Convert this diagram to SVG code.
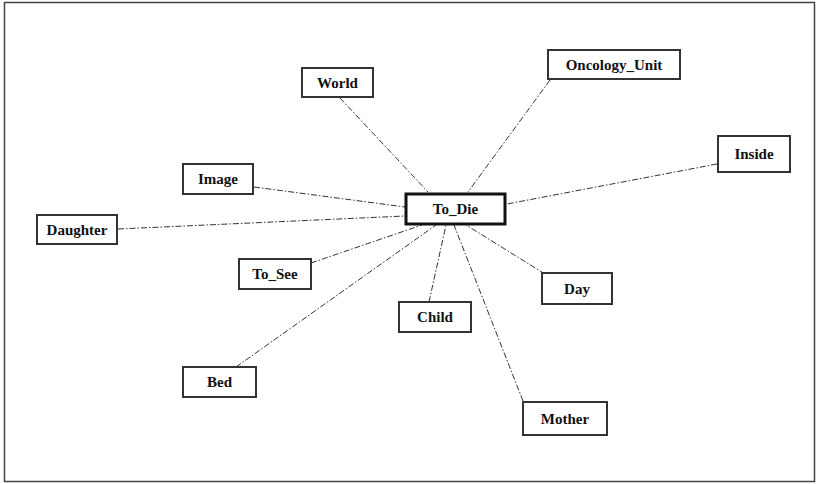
<svg xmlns="http://www.w3.org/2000/svg" width="818" height="484" viewBox="0 0 818 484">
<style>
.frame{fill:#fff;stroke:#444;stroke-width:1.5}
.box{fill:#fff;stroke:#333;stroke-width:2}
.main{fill:#fff;stroke:#111;stroke-width:3}
.lbl{font-family:"Liberation Serif","Times New Roman",serif;font-weight:bold;font-size:15px;fill:#111;text-anchor:middle}
.edge{stroke:#333;stroke-width:1;fill:none;stroke-dasharray:6 2 1.5 2}
</style>
<rect class="frame" x="4.5" y="2.5" width="810" height="479"/>
<g id="connectors">
<line class="edge" x1="340" y1="98" x2="428" y2="192"/>
<line class="edge" x1="550" y1="80" x2="468" y2="192"/>
<line class="edge" x1="717" y1="164" x2="507" y2="204"/>
<line class="edge" x1="254" y1="187" x2="405" y2="207"/>
<line class="edge" x1="118" y1="229" x2="405" y2="216"/>
<line class="edge" x1="311" y1="263" x2="422" y2="225"/>
<line class="edge" x1="236" y1="367" x2="436" y2="225"/>
<line class="edge" x1="429" y1="302" x2="446" y2="225"/>
<line class="edge" x1="523" y1="401" x2="454" y2="225"/>
<line class="edge" x1="545" y1="274" x2="466" y2="225"/>
</g>
<g id="n-to-die"><rect class="main" x="406" y="194" width="99" height="30"/><text class="lbl" x="455.5" y="214">To_Die</text></g>
<g id="n-world"><rect class="box" x="302" y="68" width="71" height="29"/><text class="lbl" x="337.5" y="87.5">World</text></g>
<g id="n-oncology"><rect class="box" x="548" y="50" width="132" height="29"/><text class="lbl" x="614" y="69.5">Oncology_Unit</text></g>
<g id="n-inside"><rect class="box" x="718" y="136" width="72" height="36"/><text class="lbl" x="754" y="159">Inside</text></g>
<g id="n-image"><rect class="box" x="183" y="164" width="70" height="30"/><text class="lbl" x="218" y="184">Image</text></g>
<g id="n-daughter"><rect class="box" x="37" y="215" width="80" height="29"/><text class="lbl" x="77" y="234.5">Daughter</text></g>
<g id="n-to-see"><rect class="box" x="239" y="259" width="72" height="30"/><text class="lbl" x="275" y="279">To_See</text></g>
<g id="n-child"><rect class="box" x="399" y="302" width="72" height="30"/><text class="lbl" x="435" y="322">Child</text></g>
<g id="n-day"><rect class="box" x="542" y="273" width="70" height="31"/><text class="lbl" x="577" y="293.5">Day</text></g>
<g id="n-bed"><rect class="box" x="183" y="367" width="73" height="30"/><text class="lbl" x="219.5" y="387">Bed</text></g>
<g id="n-mother"><rect class="box" x="523" y="402" width="84" height="33"/><text class="lbl" x="565" y="424">Mother</text></g>
</svg>
